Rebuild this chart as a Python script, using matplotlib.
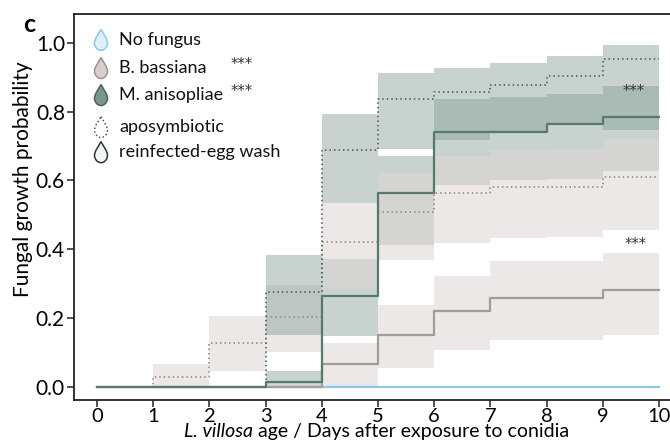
import numpy as np
import matplotlib
matplotlib.use("Agg")
import matplotlib.pyplot as plt
from matplotlib.path import Path
from matplotlib.patches import PathPatch

plt.rcParams['font.family'] = ['Lato', 'DejaVu Sans']
plt.rcParams['mathtext.fontset'] = 'custom'
plt.rcParams['mathtext.it'] = 'Lato:italic'
plt.rcParams['mathtext.rm'] = 'Lato'

# ---- data (value on each day interval [d, d+1)) ----
days = list(range(0, 11))

ma_reinf    = [0, 0, 0, 0.015, 0.265, 0.564, 0.740, 0.740, 0.763, 0.785]
ma_reinf_lo = [0, 0, 0, 0.000, 0.147, 0.412, 0.586, 0.601, 0.603, 0.627]
ma_reinf_hi = [0, 0, 0, 0.047, 0.370, 0.671, 0.835, 0.842, 0.850, 0.874]

ma_apo    = [0, 0, 0, 0.275, 0.688, 0.835, 0.856, 0.878, 0.902, 0.953]
ma_apo_lo = [0, 0, 0, 0.150, 0.535, 0.692, 0.717, 0.739, 0.762, 0.746]
ma_apo_hi = [0, 0, 0, 0.383, 0.792, 0.912, 0.926, 0.942, 0.960, 0.993]

bb_reinf    = [0, 0, 0, 0, 0.066, 0.151, 0.221, 0.259, 0.259, 0.281]
bb_reinf_lo = [0, 0, 0, 0, 0.000, 0.053, 0.107, 0.136, 0.136, 0.150]
bb_reinf_hi = [0, 0, 0, 0.008, 0.126, 0.238, 0.321, 0.365, 0.365, 0.388]

bb_apo    = [0, 0.027, 0.128, 0.204, 0.420, 0.509, 0.563, 0.581, 0.581, 0.609]
bb_apo_lo = [0, 0.000, 0.047, 0.102, 0.284, 0.368, 0.417, 0.432, 0.436, 0.455]
bb_apo_hi = [0, 0.066, 0.205, 0.296, 0.535, 0.620, 0.672, 0.688, 0.690, 0.719]

nf_reinf = [0] * 10
nf_apo = [0] * 10

xticks = list(range(0, 11))
yticks = [0.0, 0.2, 0.4, 0.6, 0.8, 1.0]

legend_labels = ["No fungus", "B. bassiana", "M. anisopliae", "aposymbiotic", "reinfected-egg wash"]
legend_stars = ["", "***", "***", "", ""]

# ---- styles ----
GREEN_FILL = "#8aa199"; GREEN_A = 0.47
PINK_FILL = "#ded7d5"; PINK_A = 0.57
GREEN_LINE = "#587a6d"; GREEN_DOT = "#4f6b62"
BROWN_LINE = "#a69b98"; BROWN_DOT = "#9a8e8b"
BLUE = "#8cc8ea"
DOTS = (0, (0.8, 1.7))
STAR_FONT = dict(family='DejaVu Sans', fontsize=10.5, color='#333333')

def ext(v):
    return list(v) + [v[-1]]

fig = plt.figure(figsize=(6.7, 4.47), dpi=100)
ax = fig.add_axes([74/670, 47/447, 596/670, 386/447])

ax.fill_between(days, ext(ma_reinf_lo), ext(ma_reinf_hi), step='post', color=GREEN_FILL, alpha=GREEN_A, lw=0)
ax.fill_between(days, ext(bb_apo_lo), ext(bb_apo_hi), step='post', color=PINK_FILL, alpha=PINK_A, lw=0)
ax.fill_between(days, ext(ma_apo_lo), ext(ma_apo_hi), step='post', color=GREEN_FILL, alpha=GREEN_A, lw=0)
ax.fill_between(days, ext(bb_reinf_lo), ext(bb_reinf_hi), step='post', color=PINK_FILL, alpha=PINK_A, lw=0)

ax.step(days, ext(nf_apo), where='post', color=BLUE, lw=1.3, ls=DOTS)
ax.step(days, ext(nf_reinf), where='post', color=BLUE, lw=1.6)
ax.step(days, ext(bb_apo), where='post', color=BROWN_DOT, lw=1.3, ls=DOTS)
ax.step(days, ext(bb_reinf), where='post', color=BROWN_LINE, lw=1.6)
ax.step(days, ext(ma_apo), where='post', color=GREEN_DOT, lw=1.3, ls=DOTS)
ax.step(days, ext(ma_reinf), where='post', color=GREEN_LINE, lw=1.6)

ax.text(9.55, 0.858, "***", ha='center', va='center', **STAR_FONT)
ax.text(9.58, 0.414, "***", ha='center', va='center', **STAR_FONT)

ax.set_xlim(-0.409, 10.196)
ax.set_ylim(-0.0387, 1.0835)
ax.set_xticks(xticks)
ax.set_yticks(yticks)
ax.set_yticklabels([f"{v:.1f}" for v in yticks])
ax.tick_params(labelsize=15, length=5, width=1.1, color='#222222', pad=1.5)
ax.tick_params(axis='x', labelsize=14.5, pad=0.5)
ax.spines['right'].set_visible(False)
for s in ['left', 'bottom', 'top']:
    ax.spines[s].set_linewidth(1.3)
    ax.spines[s].set_color('#222222')

ax.set_ylabel("Fungal growth probability", fontsize=15)
ax.yaxis.set_label_coords(-0.069, 0.572)
ax.set_xlabel("L. villosa age / Days after exposure to conidia", fontsize=14, alpha=0)
ax.xaxis.set_label_coords(0.508, -0.060)
# visible x label built from an italic and an upright part
lab_y = -0.060
t1 = ax.text(0, lab_y, "L. villosa", transform=ax.transAxes, fontsize=14, style='italic', va='top', ha='left')
t2 = ax.text(0, lab_y, " age / Days after exposure to conidia", transform=ax.transAxes, fontsize=14, va='top', ha='left')
fig.canvas.draw()
r = fig.canvas.get_renderer()
w1 = t1.get_window_extent(r).width
w2 = t2.get_window_extent(r).width
axw = ax.get_window_extent(r).width
x0 = 0.508 - (w1 + w2) / 2 / axw
t1.set_x(x0)
t2.set_x(x0 + w1 / axw)
ax.xaxis.label.set_visible(False)

# ---- legend with drop icons ----
drop_verts = [(0, 0.5), (0.1, 0.3), (0.3, 0.05), (0.3, -0.15),
              (0.3, -0.35), (0.15, -0.5), (0, -0.5),
              (-0.15, -0.5), (-0.3, -0.35), (-0.3, -0.15),
              (-0.3, 0.05), (-0.1, 0.3), (0, 0.5), (0, 0.5)]
drop_codes = [Path.MOVETO] + [Path.CURVE4] * 12 + [Path.CLOSEPOLY]
W, H = 13/596, 21/386
drop_styles = [
    dict(fc="#dff0fa", ec=BLUE, ls='-'),
    dict(fc="#d8cdca", ec="#a0918d", ls='-'),
    dict(fc="#7b968b", ec="#4a665b", ls='-'),
    dict(fc="white", ec="#555555", ls=(0, (1, 1.5))),
    dict(fc="#f4f6f6", ec="#263836", ls='-'),
]
rows_y = [0.933, 0.860, 0.790, 0.707, 0.642]
for yy, lab, st, sty in zip(rows_y, legend_labels, legend_stars, drop_styles):
    v = [(cx * W / 0.6 + 0.0453, cy * H + yy) for cx, cy in drop_verts]
    p = PathPatch(Path(v, drop_codes), transform=ax.transAxes, facecolor=sty['fc'],
                  edgecolor=sty['ec'], lw=1.1, ls=sty['ls'], clip_on=False, zorder=5)
    ax.add_patch(p)
    ax.text(0.0755, yy, lab, transform=ax.transAxes, fontsize=13, va='center', ha='left', color='#111111')
    if st:
        ax.text(0.262, yy + 0.010, st, transform=ax.transAxes, va='center', ha='left', **STAR_FONT)

fig.text(0.043, 0.946, "c", fontsize=18, fontweight='bold', ha='center', va='center')

fig.savefig("out.png", dpi=100)
